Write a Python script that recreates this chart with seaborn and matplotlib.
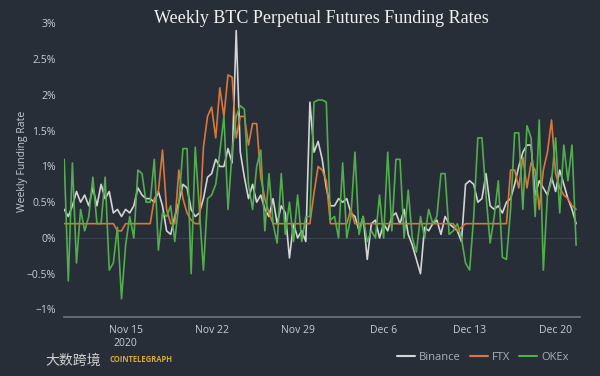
import numpy as np
import pandas as pd
import matplotlib as mpl
from matplotlib import pyplot as plt
import matplotlib.dates as mdates
import seaborn as sns

# weekly funding rate in %, one value every 8 hours from Nov 10 2020
binance = [
    0.4, 0.3, 0.45, 0.65, 0.5, 0.6, 0.45, 0.7, 0.45, 0.75, 0.55, 0.65,
    0.35, 0.4, 0.3, 0.4, 0.35, 0.45, 0.7, 0.6, 0.55, 0.55, 0.5, 0.65,
    0.45, 0.1, 0.05, 0.3, 0.5, 0.75, 0.7, 0.4, 0.3, 0.35, 0.55, 0.85,
    0.9, 1.1, 1.0, 1.0, 1.25, 1.05, 2.9, 1.2, 0.85, 0.55, 0.75, 0.5,
    0.6, 0.4, 0.3, 0.55, 0.2, 0.45, 0.35, -0.28, 0.2, 0.0, 0.1, -0.05,
    1.9, 1.2, 1.35, 1.1, 0.7, 0.45, 0.45, 0.55, 0.5, 0.55, 0.35, 0.3,
    0.1, 0.3, -0.3, 0.2, 0.25, 0.0, 0.2, 0.1, 0.3, 0.35, 0.2, 0.4,
    0.05, -0.1, -0.3, -0.5, 0.15, 0.1, 0.2, 0.25, 0.05, 0.3, 0.2, 0.15,
    0.1, -0.05, 0.75, 0.8, 0.75, 0.5, 0.55, 0.9, 0.45, 0.4, 0.45, 0.35,
    0.5, 0.55, 0.75, 1.0, 1.2, 1.3, 1.3, 0.6, 0.8, 0.7, 0.6, 0.85,
    0.65, 0.95, 0.75, 0.55, 0.4, 0.2,
]
ftx = [
    0.2, 0.2, 0.2, 0.2, 0.2, 0.2, 0.2, 0.2, 0.2, 0.2, 0.2, 0.2,
    0.2, 0.1, 0.1, 0.2, 0.2, 0.2, 0.2, 0.2, 0.2, 0.2, 0.55, 0.65,
    1.23, 0.4, 0.2, 0.2, 0.95, 0.55, 0.35, 0.25, 0.2, 0.2, 1.27, 1.7,
    1.83, 1.4, 2.1, 1.7, 2.28, 2.25, 1.4, 1.7, 1.7, 1.3, 1.6, 1.6,
    0.85, 0.55, 0.35, 0.2, 0.2, 0.2, 0.2, 0.2, 0.2, 0.2, 0.2, 0.2,
    0.2, 0.63, 1.0, 0.95, 0.8, 0.2, 0.2, 0.2, 0.2, 0.2, 0.4, 0.2,
    0.2, 0.2, 0.2, 0.2, 0.2, 0.2, 0.2, 0.2, 0.2, 0.2, 0.2, 0.2,
    0.2, 0.2, 0.2, 0.2, 0.2, 0.2, 0.2, 0.2, 0.2, 0.2, 0.2, 0.2,
    0.1, 0.15, 0.2, 0.2, 0.2, 0.2, 0.2, 0.2, 0.2, 0.2, 0.2, 0.2,
    0.2, 0.95, 0.95, 0.7, 1.13, 0.7, 1.05, 0.95, 0.4, 0.95, 1.2, 1.65,
    0.9, 0.7, 0.6, 0.55, 0.45, 0.4,
]
okex = [
    1.1, -0.6, 1.05, -0.35, 0.4, 0.1, 0.3, 0.85, 0.2, 0.2, 0.85, -0.45,
    -0.35, 0.15, -0.85, -0.1, 0.3, 0.0, 0.95, 0.9, 0.5, 0.5, 1.1, -0.17,
    0.35, 0.3, 0.45, -0.05, 0.5, 1.25, 1.25, -0.5, 1.27, 0.4, -0.45, 0.55,
    0.6, 0.75, 1.2, 1.7, 0.4, 1.2, 1.7, 1.85, 1.8, 0.75, 0.4, 1.0,
    1.23, 0.1, 0.9, 0.2, -0.07, 0.9, 0.05, 0.5, -0.05, 0.6, -0.05, 0.3,
    0.3, 1.9, 1.93, 1.93, 1.9, 0.25, 0.3, 0.0, 1.05, 0.0, 0.3, 1.2,
    0.05, 0.3, -0.05, 0.1, 0.0, 0.6, 0.0, 1.2, 0.1, 1.1, 1.1, 0.0,
    0.67, 0.0, -0.2, 0.3, 0.0, 0.4, 0.2, 0.3, 0.9, 0.9, 0.05, 0.1,
    0.2, 0.0, -0.35, -0.45, 0.3, 1.4, 1.4, 0.6, -0.07, 0.3, 0.8, -0.27,
    -0.3, 0.4, 1.47, 1.47, 0.4, 1.57, 1.4, 0.3, 1.65, -0.45, 0.6, 0.8,
    1.4, 0.35, 1.3, 0.8, 1.3, -0.1,
]
exchanges = ["Binance", "FTX", "OKEx"]
tick_dates = ["2020-11-15", "2020-11-22", "2020-11-29", "2020-12-06", "2020-12-13", "2020-12-20"]
tick_labels = ["Nov 15\n2020", "Nov 22", "Nov 29", "Dec 6", "Dec 13", "Dec 20"]
y_ticks = [-1, -0.5, 0, 0.5, 1, 1.5, 2, 2.5, 3]
y_labels = ["\u22121%", "\u22120.5%", "0%", "0.5%", "1%", "1.5%", "2%", "2.5%", "3%"]

times = pd.date_range("2020-11-10", periods=len(binance), freq="8h")
df = pd.DataFrame({"time": times, "Binance": binance, "FTX": ftx, "OKEx": okex})
df = df.melt(id_vars="time", var_name="exchange", value_name="rate")

bg = "#272e38"
grey = "#aab0b8"
sns.set_style("dark")
plt.rcParams["font.family"] = ["Open Sans", "DejaVu Sans"]

fig = plt.figure(figsize=(6, 3.76), dpi=100, facecolor=bg)
ax = fig.add_axes([0.107, 0.157, 0.86, 0.83])
ax.set_facecolor(bg)

ax.axhline(0, color="#3a424d", lw=0.8, zorder=0)
palette = {"Binance": "#d4d4d4", "FTX": "#d9783a", "OKEx": "#52ad4c"}
sns.lineplot(data=df, x="time", y="rate", hue="exchange", hue_order=exchanges,
             palette=palette, linewidth=1.2, ax=ax, legend=False)

ax.set_xlim(pd.Timestamp("2020-11-10"), pd.Timestamp("2020-12-22"))
ax.set_ylim(-1.105, 3.26)
ax.set_xticks([pd.Timestamp(d) for d in tick_dates])
ax.set_xticklabels(tick_labels)
ax.set_yticks(y_ticks)
ax.set_yticklabels(y_labels)
ax.tick_params(axis="x", colors=grey, labelsize=7.5, length=2, direction="in", pad=6)
ax.tick_params(axis="y", colors=grey, labelsize=7.5, length=4, width=0.8, pad=2)
for lab in ax.get_xticklabels() + ax.get_yticklabels():
    lab.set_color("#c8ccd2")
ax.set_xlabel("")
ax.set_ylabel("Weekly Funding Rate", color="#c8ccd2", fontsize=7.5)
ax.yaxis.set_label_coords(-0.07, 0.5)
ax.grid(False)
for side in ["top", "right", "left"]:
    ax.spines[side].set_visible(False)
ax.spines["bottom"].set_color("#6e747c")
ax.spines["bottom"].set_linewidth(1.2)

fig.text(0.535, 0.952, "Weekly BTC Perpetual Futures Funding Rates", color="#f0f0f0",
         fontsize=13, ha="center", va="center", family=["Liberation Serif", "DejaVu Serif"])

# legend below plot on the right
handles = [plt.Line2D([], [], color=palette[e], lw=1.5) for e in exchanges]
fig.legend(handles, exchanges, loc="center left", bbox_to_anchor=(0.645, 0.05),
           ncol=3, frameon=False, fontsize=8, labelcolor=grey,
           handlelength=1.6, handletextpad=0.4, columnspacing=0.8)

# source marks at bottom left
fig.text(0.075, 0.04, "大数跨境", color="#d0d0d0", fontsize=10, va="center",
         family=["Noto Sans CJK SC", "DejaVu Sans"])
fig.text(0.182, 0.045, "COINTELEGRAPH", color="#d8a83a", fontsize=5.5,
         fontweight="bold", va="center")

fig.savefig("out.png", dpi=100, facecolor=bg)
